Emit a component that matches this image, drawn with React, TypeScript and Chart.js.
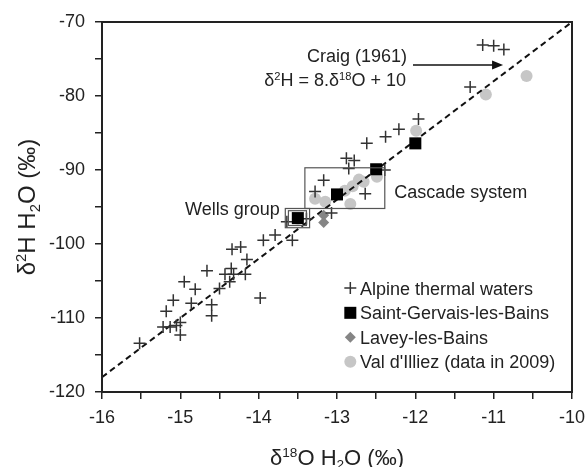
import React, { useEffect, useRef } from "react";
import { Chart, registerables } from "chart.js";

Chart.register(...registerables);

// ---- data ----
const alpineX = [-11.14, -11.0, -10.87, -11.3, -11.96, -12.21, -12.38, -12.62, -12.88, -12.78, -12.85, -12.39, -13.17, -13.28, -12.64, -13.07, -13.64, -13.39, -13.79, -13.94, -13.57, -14.34, -14.23, -14.15, -14.66, -14.35, -14.43, -14.32, -14.17, -14.37, -14.5, -14.95, -14.81, -13.98, -15.09, -14.86, -14.6, -14.6, -15.18, -15.22, -15.13, -15.05, -15.0, -15.0, -15.52];
const alpineY = [-73.1, -73.2, -73.7, -78.8, -83.1, -84.5, -85.5, -86.4, -88.4, -88.7, -89.8, -90.0, -91.4, -92.9, -93.2, -95.8, -97.0, -96.6, -98.8, -99.5, -99.5, -100.7, -100.4, -102.1, -103.6, -103.3, -104.1, -104.1, -104.1, -105.1, -106.0, -105.1, -106.1, -107.3, -107.6, -108.0, -108.2, -109.7, -109.1, -111.2, -111.2, -111.0, -110.6, -112.3, -113.4];

const gervaisX = [-12.0, -12.5, -13.0, -13.5];
const gervaisY = [-86.4, -89.9, -93.3, -96.5];

const laveyX = [-13.17, -13.17];
const laveyY = [-96.1, -97.1];

const illiezX = [-10.58, -11.1, -11.99, -12.49, -12.72, -12.66, -12.8, -12.9, -13.28, -13.15, -12.83, -13.5];
const illiezY = [-77.3, -79.8, -84.7, -90.9, -91.3, -91.6, -92.2, -92.8, -93.9, -94.3, -94.6, -96.6];

const craigX = [-16, -10];
const craigY = craigX.map((x) => 8 * x + 10);

const seriesLabels = ["Alpine thermal waters", "Saint-Gervais-les-Bains", "Lavey-les-Bains", "Val d'Illiez (data in 2009)"];

const xTickMin = -16;
const xTickMax = -10;
const yTickMin = -120;
const yTickMax = -70;

// annotation boxes (data coords)
const cascadeBox = [-13.41, -89.7, -12.39, -95.2];
const wellsBoxOuter = [-13.66, -95.2, -13.35, -97.8];
const wellsBoxInner = [-13.62, -95.5, -13.39, -97.5];
const arrowFrom = [-12.03, -75.8];
const arrowTo = [-10.88, -75.8];

const FONT = '"Liberation Sans", Arial, sans-serif';
const TEXT = "#222";

type Seg = { t: string; sup?: boolean; sub?: boolean };

function drawRich(ctx: CanvasRenderingContext2D, segs: Seg[], x: number, y: number, size: number, align: "left" | "center" | "right") {
  const small = size * 0.62;
  let total = 0;
  const widths: number[] = [];
  for (const s of segs) {
    ctx.font = `${s.sup || s.sub ? small : size}px ${FONT}`;
    const w = ctx.measureText(s.t).width;
    widths.push(w);
    total += w;
  }
  let cx = align === "left" ? x : align === "center" ? x - total / 2 : x - total;
  ctx.textBaseline = "alphabetic";
  ctx.textAlign = "left";
  segs.forEach((s, i) => {
    ctx.font = `${s.sup || s.sub ? small : size}px ${FONT}`;
    const dy = s.sup ? -size * 0.36 : s.sub ? size * 0.2 : 0;
    ctx.fillText(s.t, cx, y + dy);
    cx += widths[i];
  });
}

const overlay = {
  id: "overlay",
  afterDraw(chart: any) {
    const ctx: CanvasRenderingContext2D = chart.ctx;
    const xs = chart.scales.x;
    const ys = chart.scales.y;
    const ca = chart.chartArea;
    const px = (v: number) => xs.getPixelForValue(v);
    const py = (v: number) => ys.getPixelForValue(v);
    ctx.save();
    // frame
    ctx.strokeStyle = "#222";
    ctx.lineWidth = 2;
    ctx.strokeRect(ca.left, ca.top, ca.right - ca.left, ca.bottom - ca.top);

    // boxes
    ctx.strokeStyle = "#555";
    ctx.lineWidth = 1.2;
    for (const b of [cascadeBox, wellsBoxOuter, wellsBoxInner]) {
      ctx.strokeRect(px(b[0]), py(b[1]), px(b[2]) - px(b[0]), py(b[3]) - py(b[1]));
    }

    // arrow
    const ax0 = px(arrowFrom[0]), ay0 = py(arrowFrom[1]);
    const ax1 = px(arrowTo[0]), ay1 = py(arrowTo[1]);
    ctx.strokeStyle = "#111";
    ctx.lineWidth = 1.5;
    ctx.beginPath();
    ctx.moveTo(ax0, ay0);
    ctx.lineTo(ax1 - 8, ay1);
    ctx.stroke();
    ctx.fillStyle = "#111";
    ctx.beginPath();
    ctx.moveTo(ax1, ay1);
    ctx.lineTo(ax1 - 11, ay1 - 4.5);
    ctx.lineTo(ax1 - 11, ay1 + 4.5);
    ctx.closePath();
    ctx.fill();

    // texts
    ctx.fillStyle = TEXT;
    drawRich(ctx, [{ t: "Craig (1961)" }], px(-12.106), py(-75.4), 18, "right");
    drawRich(ctx, [{ t: "\u03b4" }, { t: "2", sup: true }, { t: "H = 8." }, { t: "\u03b4" }, { t: "18", sup: true }, { t: "O + 10" }], px(-12.12), py(-78.65), 18, "right");
    drawRich(ctx, [{ t: "Cascade system" }], px(-12.27), py(-93.8), 18, "left");
    drawRich(ctx, [{ t: "Wells group" }], px(-13.73), py(-96.1), 18, "right");

    // legend
    const lx = px(-12.83);
    const tx = px(-12.706);
    const rows = [-105.95, -109.3, -112.6, -115.9].map(py);
    // cross
    ctx.strokeStyle = "#333";
    ctx.lineWidth = 1.5;
    ctx.beginPath();
    ctx.moveTo(lx - 6, rows[0]);
    ctx.lineTo(lx + 6, rows[0]);
    ctx.moveTo(lx, rows[0] - 6);
    ctx.lineTo(lx, rows[0] + 6);
    ctx.stroke();
    // square
    ctx.fillStyle = "#000";
    ctx.fillRect(lx - 6, rows[1] - 6, 12, 12);
    // diamond
    ctx.fillStyle = "#858585";
    ctx.beginPath();
    ctx.moveTo(lx - 5.5, rows[2]);
    ctx.lineTo(lx, rows[2] - 5.5);
    ctx.lineTo(lx + 5.5, rows[2]);
    ctx.lineTo(lx, rows[2] + 5.5);
    ctx.closePath();
    ctx.fill();
    // circle
    ctx.fillStyle = "#c6c6c6";
    ctx.beginPath();
    ctx.arc(lx, rows[3], 6, 0, Math.PI * 2);
    ctx.fill();
    ctx.fillStyle = TEXT;
    seriesLabels.forEach((l, i) => drawRich(ctx, [{ t: l }], tx, rows[i] + 6.5, 18, "left"));

    // axis titles
    drawRich(ctx, [{ t: "\u03b4" }, { t: "18", sup: true }, { t: "O H" }, { t: "2", sub: true }, { t: "O (\u2030)" }], (ca.left + ca.right) / 2, 465, 22, "center");
    ctx.save();
    ctx.translate(35, (ca.top + ca.bottom) / 2);
    ctx.rotate(-Math.PI / 2);
    drawRich(ctx, [{ t: "\u03b4" }, { t: "2", sup: true }, { t: "H H" }, { t: "2", sub: true }, { t: "O (\u2030)" }], 0, 0, 24, "center");
    ctx.restore();
    ctx.restore();
  },
};

const pts = (xs: number[], ys: number[]) => xs.map((x, i) => ({ x, y: ys[i] }));

export default function App() {
  const ref = useRef<HTMLCanvasElement | null>(null);
  useEffect(() => {
    if (!ref.current) return;
    const chart = new Chart(ref.current, {
      type: "scatter",
      data: {
        datasets: [
          {
            label: seriesLabels[1],
            data: pts(gervaisX, gervaisY),
            pointStyle: "rect",
            pointRadius: 8.5,
            backgroundColor: "#000",
            borderColor: "#000",
            borderWidth: 0,
            order: 0,
          } as any,
          {
            label: seriesLabels[0],
            data: pts(alpineX, alpineY),
            pointStyle: "cross",
            pointRadius: 6,
            borderColor: "#333",
            backgroundColor: "#333",
            borderWidth: 1.5,
            order: 1,
          },
          {
            label: seriesLabels[2],
            data: pts(laveyX, laveyY),
            pointStyle: "rectRot",
            pointRadius: 5.5,
            backgroundColor: "#858585",
            borderWidth: 0,
            order: 2,
          },
          {
            type: "line",
            label: "Craig (1961)",
            data: pts(craigX, craigY),
            borderColor: "#111",
            borderWidth: 2,
            borderDash: [6, 4],
            pointRadius: 0,
            showLine: true,
            fill: false,
            order: 3,
          } as any,
          {
            label: seriesLabels[3],
            data: pts(illiezX, illiezY),
            pointStyle: "circle",
            pointRadius: 6,
            backgroundColor: "#c6c6c6",
            borderWidth: 0,
            order: 4,
          },
        ],
      },
      options: {
        responsive: false,
        animation: false,
        layout: { padding: { top: 22, right: 13, left: 0, bottom: 0 } },
        plugins: { legend: { display: false }, tooltip: { enabled: false } },
        scales: {
          x: {
            type: "linear",
            min: xTickMin,
            max: xTickMax,
            afterFit: (s: any) => {
              s.height = 75;
              s.paddingLeft = 0;
              s.paddingRight = 0;
            },
            ticks: {
              stepSize: 0.5,
              autoSkip: false,
              maxRotation: 0,
              padding: 8,
              color: TEXT,
              font: { family: FONT, size: 18 },
              callback: (v: any) => (Math.abs(v - Math.round(v)) < 1e-6 ? String(Math.round(v)) : ""),
            },
            grid: { display: true, drawOnChartArea: false, drawTicks: true, tickLength: 7, color: "#222", lineWidth: 1.5 },
            border: { display: true, color: "#222", width: 2 },
          },
          y: {
            type: "linear",
            min: yTickMin,
            max: yTickMax,
            afterFit: (s: any) => {
              s.width = 102;
              s.paddingTop = 0;
              s.paddingBottom = 0;
            },
            ticks: {
              stepSize: 5,
              autoSkip: false,
              padding: 10,
              color: TEXT,
              font: { family: FONT, size: 18 },
              callback: (v: any) => (Math.round(v) % 10 === 0 ? String(Math.round(v)) : ""),
            },
            grid: { display: true, drawOnChartArea: false, drawTicks: true, tickLength: 7, color: "#222", lineWidth: 1.5 },
            border: { display: true, color: "#222", width: 2 },
          },
        },
      },
      plugins: [overlay],
    });
    return () => chart.destroy();
  }, []);
  return (
    <div style={{ position: "fixed", left: 0, top: 0, width: 585, height: 467, background: "#fff" }}>
      <canvas ref={ref} width={585} height={467} style={{ display: "block" }} />
    </div>
  );
}
